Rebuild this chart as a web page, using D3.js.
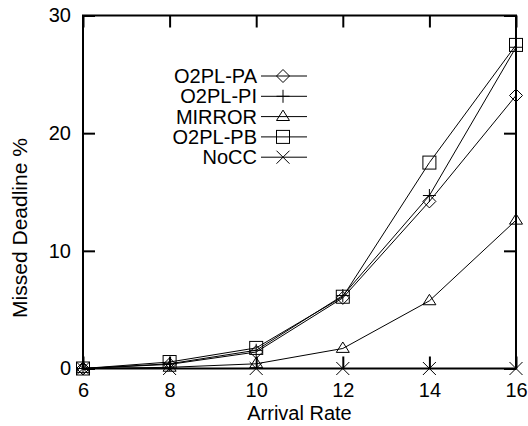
<!DOCTYPE html>
<html>
<head>
<meta charset="utf-8">
<script src="https://cdn.jsdelivr.net/npm/d3@7"></script>
<style>
body { margin: 0; background: #fff; }
text { font-family: "Liberation Sans", Arial, sans-serif; fill: #000; }
</style>
</head>
<body>
<script>
// arrival rates on the x axis
var rates = [6, 8, 10, 12, 14, 16];

// missed deadline % per protocol
var o2plPA = [0, 0.35, 1.4, 6.0, 14.2, 23.2];
var o2plPI = [0, 0.4, 1.55, 6.2, 14.7, 27.3];
var mirror = [0, 0.1, 0.4, 1.7, 5.75, 12.6];
var o2plPB = [0, 0.55, 1.75, 6.1, 17.5, 27.5];
var nocc   = [0, 0, 0, 0, 0, 0];

var seriesNames = ["O2PL-PA", "O2PL-PI", "MIRROR", "O2PL-PB", "NoCC"];
var seriesVals  = [o2plPA, o2plPI, mirror, o2plPB, nocc];
var seriesMarks = ["diamond", "plus", "triangle", "square", "cross"];

var xTicks = [6, 8, 10, 12, 14, 16];
var yTicks = [0, 10, 20, 30];

var width = 528;
var height = 426;
var padding = {top: 15.5, right: 12, bottom: 57.5, left: 83};

var svg = d3.select("body")
	.append("svg")
	.attr("width", width)
	.attr("height", height);

var x = d3.scaleLinear()
	.domain([6, 16])
	.range([padding.left, width - padding.right]);

var y = d3.scaleLinear()
	.domain([0, 30])
	.range([height - padding.bottom, padding.top]);

// draw one marker shape centred at 0,0
function marker(g, kind) {
	var s = 6.5;
	if (kind == "diamond") {
		g.append("path").attr("d", "M0," + (-s) + "L" + s + ",0L0," + s + "L" + (-s) + ",0Z")
			.attr("fill", "none").attr("stroke", "#000");
	} else if (kind == "plus") {
		g.append("path").attr("d", "M" + (-s) + ",0H" + s + "M0," + (-s) + "V" + s)
			.attr("stroke", "#000");
	} else if (kind == "triangle") {
		g.append("path").attr("d", "M0," + (-s) + "L" + s + "," + (s * 0.6) + "L" + (-s) + "," + (s * 0.6) + "Z")
			.attr("fill", "none").attr("stroke", "#000");
	} else if (kind == "square") {
		g.append("rect").attr("x", -s).attr("y", -s).attr("width", 2 * s).attr("height", 2 * s)
			.attr("fill", "none").attr("stroke", "#000");
	} else {
		g.append("path").attr("d", "M" + (-s) + "," + (-s) + "L" + s + "," + s + "M" + s + "," + (-s) + "L" + (-s) + "," + s)
			.attr("stroke", "#000");
	}
}

// axes (ticks pointing inward, mirrored on top/right)
var tickLen = 12;
svg.append("g")
	.attr("transform", "translate(0," + y(0) + ")")
	.call(d3.axisBottom(x).tickValues(xTicks).tickSize(-tickLen).tickPadding(14));
svg.append("g")
	.attr("transform", "translate(0," + y(30) + ")")
	.call(d3.axisTop(x).tickValues(xTicks).tickSize(-tickLen).tickFormat(""));
svg.append("g")
	.attr("transform", "translate(" + x(6) + ",0)")
	.call(d3.axisLeft(y).tickValues(yTicks).tickSize(-tickLen).tickPadding(12));
svg.append("g")
	.attr("transform", "translate(" + x(16) + ",0)")
	.call(d3.axisRight(y).tickValues(yTicks).tickSize(-tickLen).tickFormat(""));

svg.selectAll(".domain").remove();
svg.selectAll(".tick line").attr("stroke", "#000").attr("stroke-width", 2);
svg.selectAll(".tick text").attr("font-size", "20px").attr("fill", "#000")
	.attr("font-family", "Liberation Sans, Arial, sans-serif");

// frame
svg.append("rect")
	.attr("x", x(6)).attr("y", y(30))
	.attr("width", x(16) - x(6)).attr("height", y(0) - y(30))
	.attr("fill", "none").attr("stroke", "#000").attr("stroke-width", 2);

// axis titles
svg.append("text")
	.attr("x", (x(6) + x(16)) / 2)
	.attr("y", 420)
	.attr("text-anchor", "middle")
	.attr("font-size", "20px")
	.text("Arrival Rate");

svg.append("text")
	.attr("transform", "translate(27,228) rotate(-90)")
	.attr("text-anchor", "middle")
	.attr("font-size", "21px")
	.text("Missed Deadline %");

// lines and markers
var line = d3.line()
	.x(function(d, i){ return x(rates[i]); })
	.y(function(d){ return y(d); });

seriesVals.forEach(function(vals, k){
	svg.append("path")
		.datum(vals)
		.attr("d", line)
		.attr("fill", "none")
		.attr("stroke", "#000")
		.attr("stroke-width", 1);
	vals.forEach(function(v, i){
		var g = svg.append("g").attr("transform", "translate(" + x(rates[i]) + "," + y(v) + ")");
		marker(g, seriesMarks[k]);
	});
});

// legend
var legend = svg.append("g");
seriesNames.forEach(function(name, k){
	var ly = 76 + k * 20.3;
	legend.append("text")
		.attr("x", 257).attr("y", ly)
		.attr("dy", "0.35em")
		.attr("text-anchor", "end")
		.attr("font-size", "20px")
		.text(name);
	legend.append("line")
		.attr("x1", 261).attr("x2", 307)
		.attr("y1", ly).attr("y2", ly)
		.attr("stroke", "#000");
	var g = legend.append("g").attr("transform", "translate(283," + ly + ")");
	marker(g, seriesMarks[k]);
});
</script>
</body>
</html>
